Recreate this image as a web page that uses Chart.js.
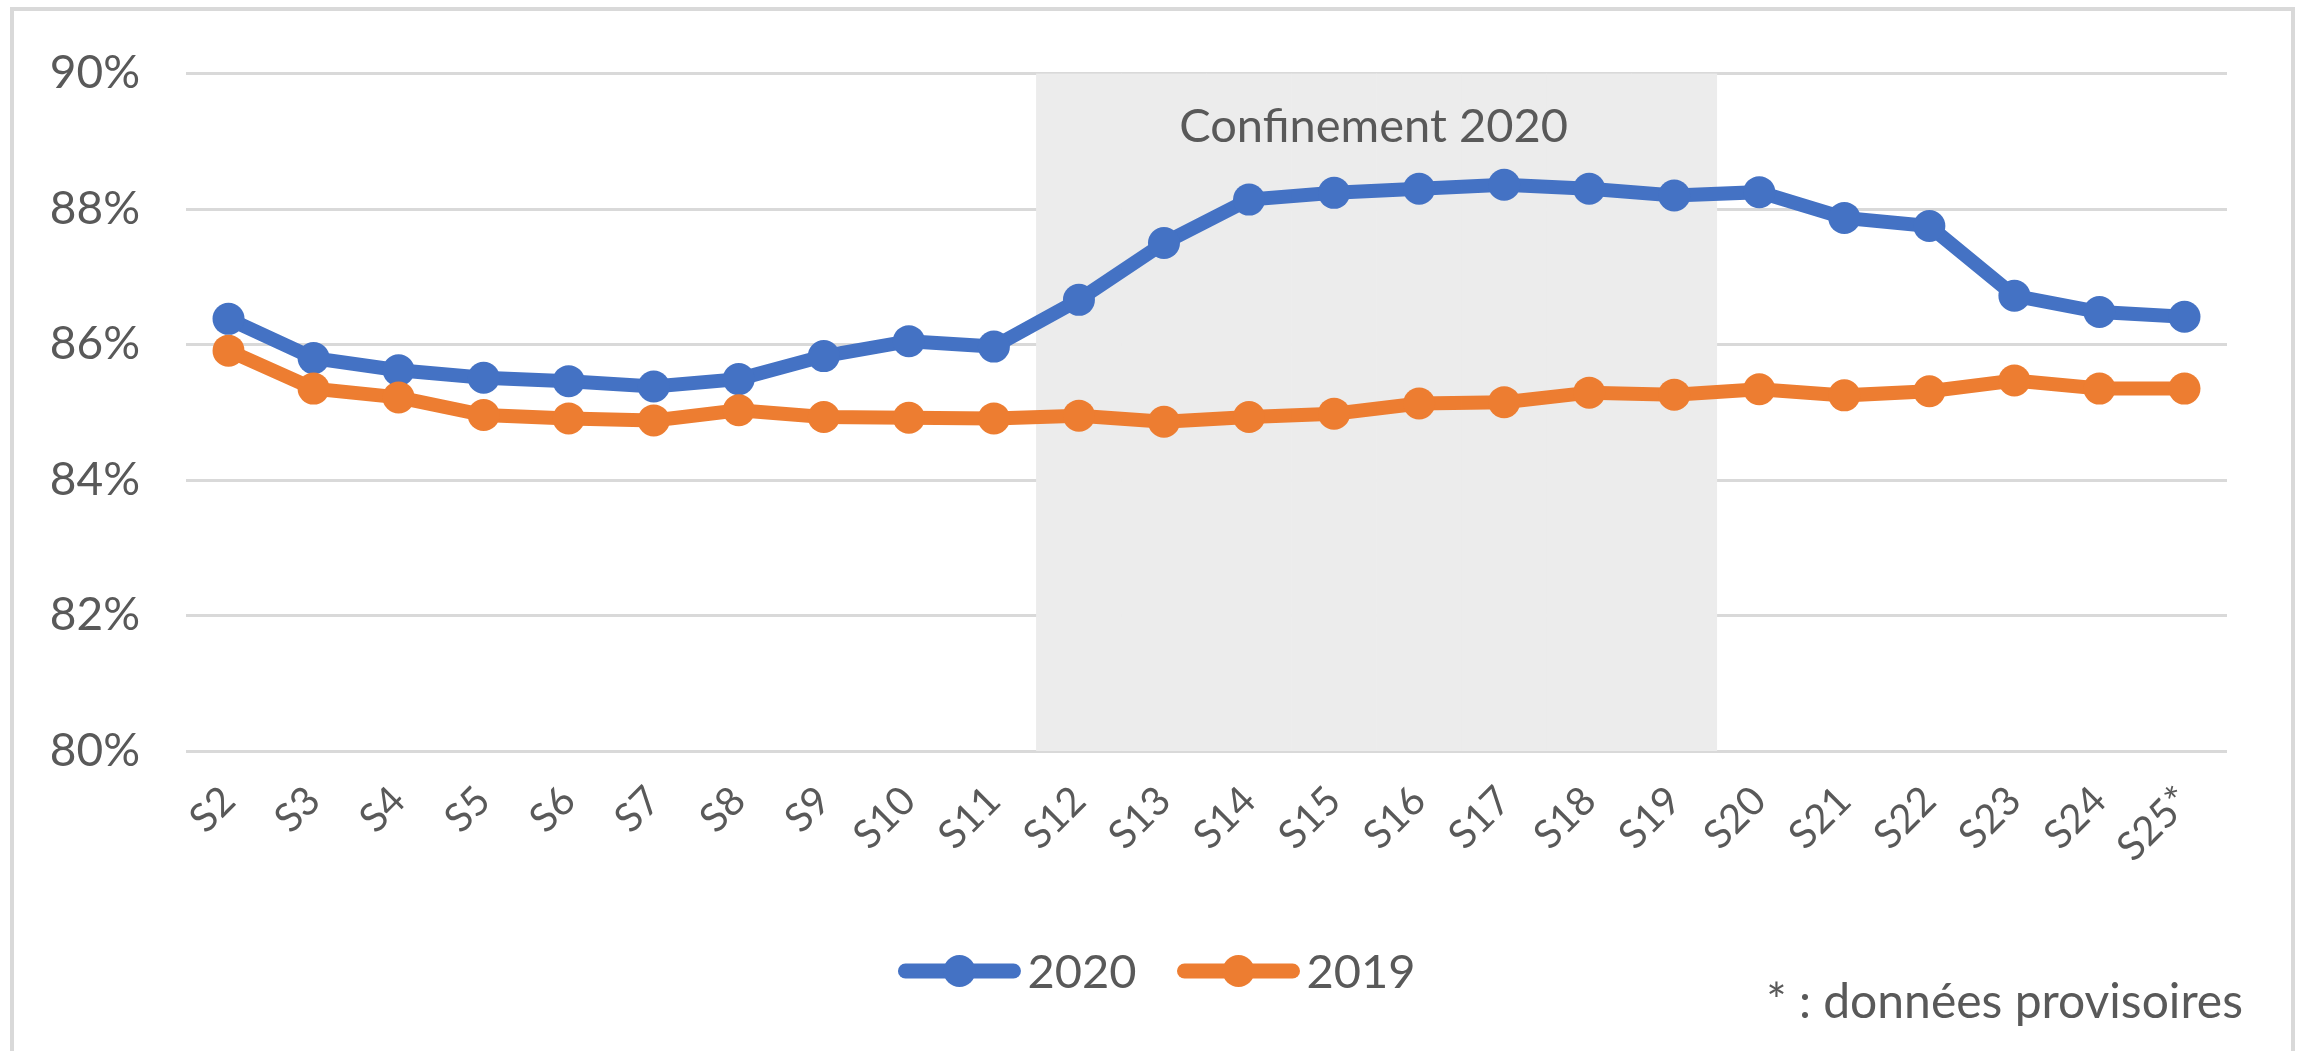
<!DOCTYPE html>
<html>
<head>
<meta charset="utf-8">
<script src="https://cdn.jsdelivr.net/npm/chart.js@4.4.1/dist/chart.umd.min.js"></script>
<style>
  html, body { margin: 0; padding: 0; background: #fff; }
  #wrap { position: relative; width: 2297px; height: 1051px; overflow: hidden; }
  #frame { position: absolute; left: 10px; top: 7px; width: 2285px; height: 1100px;
           border: 4px solid #d9d9d9; box-sizing: border-box; }
  canvas { position: absolute; left: 0; top: 0; }
</style>
</head>
<body>
<div id="wrap">
  <div id="frame"></div>
  <canvas id="chart" width="2297" height="1051"></canvas>
</div>
<script>
// Semaines
const weeks = ['S2', 'S3', 'S4', 'S5', 'S6', 'S7', 'S8', 'S9', 'S10', 'S11', 'S12', 'S13',
               'S14', 'S15', 'S16', 'S17', 'S18', 'S19', 'S20', 'S21', 'S22', 'S23', 'S24', 'S25*'];

// Taux (%)
const rate2020 = [86.38, 85.80, 85.62, 85.51, 85.46, 85.38, 85.49, 85.83, 86.05, 85.97, 86.66, 87.50,
                  88.14, 88.24, 88.30, 88.36, 88.30, 88.20, 88.25, 87.87, 87.75, 86.72, 86.48, 86.41];
const rate2019 = [85.91, 85.35, 85.22, 84.96, 84.91, 84.88, 85.03, 84.93, 84.92, 84.91, 84.95, 84.86,
                  84.93, 84.98, 85.13, 85.15, 85.29, 85.26, 85.34, 85.25, 85.31, 85.47, 85.35, 85.35];

// Période de confinement
const lockdownWeeks = ['S12', 'S13', 'S14', 'S15', 'S16', 'S17', 'S18', 'S19'];
const lockdownLabel = 'Confinement 2020';

// Axe Y
const yMin = 80, yMax = 90, yStep = 2;

const footnote = '* : données provisoires';

const FONT = "Lato, 'Liberation Sans', sans-serif";
const TEXT = '#595959';
const BLUE = '#4472c4';
const ORANGE = '#ed7d31';

// Texte du bandeau, légende et note de bas de page
const overlay = {
  id: 'overlay',
  afterDatasetsDraw(chart) {
    const x = chart.scales.x;
    const i0 = weeks.indexOf(lockdownWeeks[0]);
    const i1 = weeks.indexOf(lockdownWeeks[lockdownWeeks.length - 1]);
    const cx = (x.getPixelForValue(i0) + x.getPixelForValue(i1)) / 2;
    const ctx = chart.ctx;
    ctx.save();
    ctx.font = '47px ' + FONT;
    ctx.fillStyle = TEXT;
    ctx.textAlign = 'center';
    ctx.textBaseline = 'alphabetic';
    ctx.fillText(lockdownLabel, cx - 3, 142);
    ctx.restore();
  },
  afterDraw(chart) {
    const ctx = chart.ctx;
    ctx.save();
    ctx.font = '47px ' + FONT;
    const items = chart.data.datasets.filter(d => d.type === 'line');
    const lineLen = 124, gap = 6, itemGap = 40;
    const widths = items.map(d => lineLen + gap + ctx.measureText(d.label).width);
    const total = widths.reduce((a, b) => a + b, 0) + itemGap * (items.length - 1);
    let x = chart.width / 2 - total / 2 + 8;
    const y = 971;
    items.forEach((d, i) => {
      ctx.strokeStyle = d.borderColor;
      ctx.lineWidth = 15;
      ctx.lineCap = 'round';
      ctx.beginPath();
      ctx.moveTo(x + 8, y);
      ctx.lineTo(x + lineLen - 8, y);
      ctx.stroke();
      ctx.fillStyle = d.borderColor;
      ctx.beginPath();
      ctx.arc(x + lineLen / 2, y, d.pointRadius, 0, Math.PI * 2);
      ctx.fill();
      ctx.fillStyle = TEXT;
      ctx.textAlign = 'left';
      ctx.textBaseline = 'middle';
      ctx.fillText(d.label, x + lineLen + gap, y + 2);
      x += widths[i] + itemGap;
    });
    ctx.font = '48px ' + FONT;
    ctx.textAlign = 'right';
    ctx.textBaseline = 'alphabetic';
    ctx.fillText(footnote, 2243, 1018);
    ctx.restore();
  }
};

new Chart(document.getElementById('chart'), {
  data: {
    labels: weeks,
    datasets: [
      {
        type: 'line',
        label: '2020',
        data: rate2020,
        borderColor: BLUE,
        backgroundColor: BLUE,
        borderWidth: 14,
        pointRadius: 16,
        pointHoverRadius: 16,
        pointBackgroundColor: BLUE,
        pointBorderWidth: 0,
        tension: 0,
        order: 2
      },
      {
        type: 'line',
        label: '2019',
        data: rate2019,
        borderColor: ORANGE,
        backgroundColor: ORANGE,
        borderWidth: 14,
        pointRadius: 16,
        pointHoverRadius: 16,
        pointBackgroundColor: ORANGE,
        pointBorderWidth: 0,
        tension: 0,
        order: 1
      },
      {
        type: 'bar',
        label: lockdownLabel,
        data: weeks.map(w => lockdownWeeks.includes(w) ? [yMin, yMax] : null),
        backgroundColor: '#ececec',
        borderWidth: 0,
        barPercentage: 1,
        categoryPercentage: 1,
        order: 3
      }
    ]
  },
  options: {
    responsive: false,
    animation: false,
    devicePixelRatio: 1,
    layout: { padding: { top: 72, right: 70, bottom: 0, left: 0 } },
    plugins: {
      legend: { display: false },
      tooltip: { enabled: false }
    },
    scales: {
      x: {
        offset: true,
        grid: { display: false },
        border: { display: false },
        ticks: {
          color: TEXT,
          font: { family: FONT, size: 40 },
          autoSkip: false,
          maxRotation: 45,
          minRotation: 45,
          padding: 18
        },
        afterFit(scale) { scale.height = 300; }
      },
      y: {
        min: yMin,
        max: yMax,
        border: { display: false },
        grid: { color: '#d9d9d9', lineWidth: 3, drawTicks: false },
        ticks: {
          stepSize: yStep,
          color: TEXT,
          font: { family: FONT, size: 46 },
          padding: 46,
          callback: v => v + '%'
        },
        afterFit(scale) { scale.width = 186; }
      }
    }
  },
  plugins: [overlay]
});
</script>
</body>
</html>
